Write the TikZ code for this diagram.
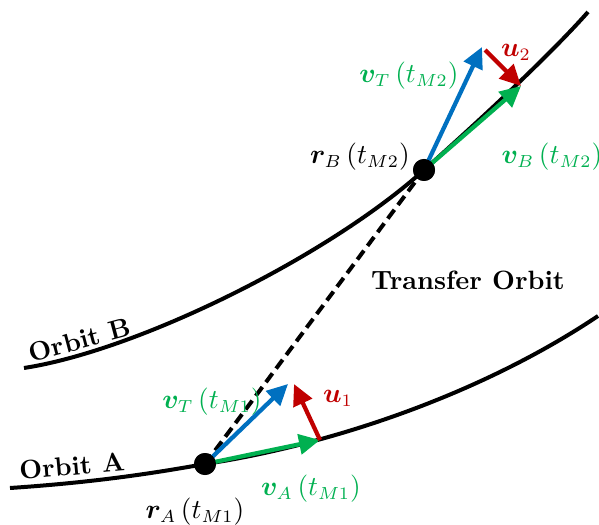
\documentclass[tikz,border=0pt]{standalone}
\usepackage{amsmath,bm}
\usetikzlibrary{arrows.meta}
\definecolor{mygreen}{RGB}{0,176,80}
\definecolor{myblue}{RGB}{0,112,192}
\definecolor{myred}{RGB}{192,0,0}
\begin{document}
\begin{tikzpicture}[x=0.4pt,y=-0.4pt,
  orbit/.style={line width=1.6pt,black},
  vec/.style={line width=1.7pt,-{Triangle[length=8.4pt,width=8pt]}},
  dot/.style={circle,fill=black,inner sep=0pt,minimum size=8.8pt},
  lbl/.style={inner sep=0pt,font=\fontsize{10.6pt}{13pt}\selectfont},
  blbl/.style={inner sep=0pt,font=\fontsize{10.6pt}{13pt}\selectfont\bfseries}]
\useasboundingbox (0,0) rectangle (599,525);
% dots
\node[dot] (rA) at (205,464) {};
\node[dot] (rB) at (424,170) {};
% coordinates
\coordinate (oBs) at (24,368);
\coordinate (oBe) at (588,12);
\coordinate (oAs) at (10,488);
\coordinate (oAe) at (598,316);
\coordinate (vAtip) at (320,440);
\coordinate (vT1tip) at (288,384);
\coordinate (u1tip) at (294,384);
\coordinate (vT2tip) at (482,47);
\coordinate (vBtip) at (521,86);
\coordinate (u2start) at (485,50);
% orbits
\draw[orbit] (oBs) .. controls (140,350) and (330,255) .. (rB.center)
  .. controls (480,120) and (550,55) .. (oBe);
\draw[orbit] (oAs) .. controls (100,482) and (160,472) .. (rA.center)
  .. controls (330,445) and (480,395) .. (oAe);
% transfer
\draw[line width=1.6pt,dash pattern=on 4.4pt off 2.4pt] (rA.center) -- (rB.center);
% vectors
\draw[vec,myblue] (rA.center) -- (vT1tip);
\draw[vec,mygreen] (rA.center) -- (vAtip);
\draw[vec,myred] (vAtip) -- (u1tip);
\draw[vec,myblue] (rB.center) -- (vT2tip);
\draw[vec,mygreen] (rB.center) -- (vBtip);
\draw[vec,myred] (u2start) -- (vBtip);
\node[dot] at (rA) {};
\node[dot] at (rB) {};
% labels
\node[lbl,text=mygreen] (lvT2) at (409,76) {$\bm{v}_T\left(t_{M2}\right)$};
\node[lbl,text=myred] (lu2) at (516,52) {$\bm{u}_2$};
\node[lbl] (lrB) at (360,157) {$\bm{r}_B\left(t_{M2}\right)$};
\node[lbl,text=mygreen] (lvB) at (552,157) {$\bm{v}_B\left(t_{M2}\right)$};
\node[lbl,text=mygreen] (lvT1) at (212,402) {$\bm{v}_T\left(t_{M1}\right)$};
\node[lbl,text=myred] (lu1) at (338,398) {$\bm{u}_1$};
\node[lbl,text=mygreen] (lvA) at (311,489) {$\bm{v}_A\left(t_{M1}\right)$};
\node[lbl] (lrA) at (195,512) {$\bm{r}_A\left(t_{M1}\right)$};
\node[blbl] (ltr) at (468,280) {Transfer Orbit};
\node[blbl,rotate=15] (lB) at (80,340) {Orbit B};
\node[blbl,rotate=5] (lA) at (72,466) {Orbit A};
\end{tikzpicture}
\end{document}
